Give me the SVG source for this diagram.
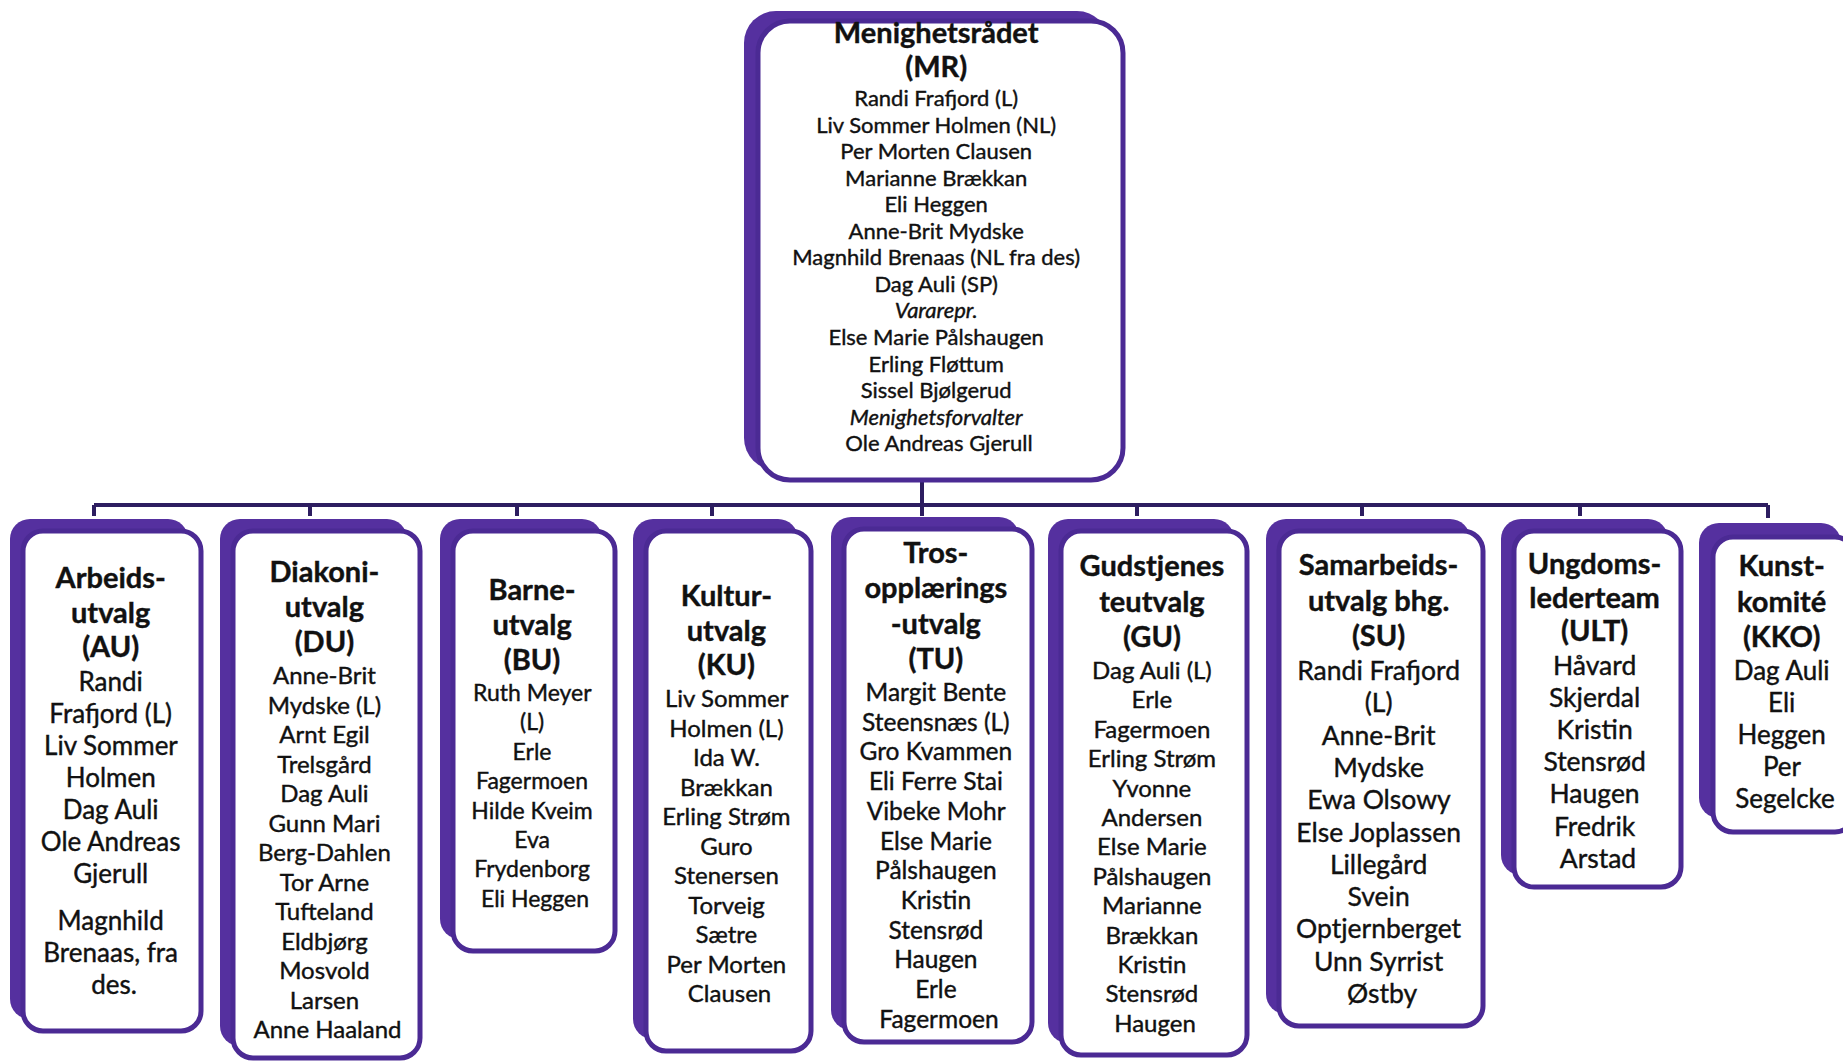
<svg xmlns="http://www.w3.org/2000/svg" width="1843" height="1062" viewBox="0 0 1843 1062">
<style>
.back{fill:#55309f}
.box{fill:#ffffff;stroke:#4b2a94;stroke-width:5}
.t{font-family:Lato,"Liberation Sans",sans-serif;text-anchor:middle;fill:#111111;stroke:#111111;stroke-width:0.4}
.h{font-weight:bold;font-size:29px}
.i{font-style:italic}
.conn{stroke:#2d1d60;stroke-width:4;fill:none}
</style>
<rect width="1843" height="1062" fill="#ffffff"/>
<g id="connectors">
<path class="conn" d="M922 482 V505 M94 505 H1768 M94 505 V516 M310 505 V516 M517 505 V516 M712 505 V516 M922 505 V516 M1137 505 V516 M1362 505 V516 M1580 505 V516 M1768 505 V518"/>
</g>
<g id="MR">
<rect class="back" x="744" y="11" width="365" height="459" rx="32"/>
<rect class="box" x="758" y="21" width="365" height="459" rx="32"/>
<text class="t" style="font-size:22px">
<tspan class="h" x="939" y="43">Menighetsrådet</tspan>
<tspan class="h" x="939" y="77">(MR)</tspan>
<tspan x="939" y="106">Randi Frafjord (L)</tspan>
<tspan x="939" dy="26.55">Liv Sommer Holmen (NL)</tspan>
<tspan x="939" dy="26.55">Per Morten Clausen</tspan>
<tspan x="939" dy="26.55">Marianne Brækkan</tspan>
<tspan x="939" dy="26.55">Eli Heggen</tspan>
<tspan x="939" dy="26.55">Anne-Brit Mydske</tspan>
<tspan x="939" dy="26.55">Magnhild Brenaas (NL fra des)</tspan>
<tspan x="939" dy="26.55">Dag Auli (SP)</tspan>
<tspan class="i" x="939" dy="26.55">Vararepr.</tspan>
<tspan x="939" dy="26.55">Else Marie Pålshaugen</tspan>
<tspan x="939" dy="26.55">Erling Fløttum</tspan>
<tspan x="939" dy="26.55">Sissel Bjølgerud</tspan>
<tspan class="i" x="939" dy="26.55">Menighetsforvalter</tspan>
<tspan x="939" dy="26.55">Ole Andreas Gjerull</tspan>
</text>
</g>
<g id="AU">
<rect class="back" x="10" y="519" width="178" height="500" rx="20"/>
<rect class="box" x="23" y="531" width="178" height="500" rx="20"/>
<text class="t" style="font-size:26px">
<tspan class="h" x="114" y="588">Arbeids-</tspan>
<tspan class="h" x="114" dy="34.5">utvalg</tspan>
<tspan class="h" x="114" dy="34.5">(AU)</tspan>
<tspan x="114" y="691">Randi</tspan>
<tspan x="114" dy="32">Frafjord (L)</tspan>
<tspan x="114" dy="32">Liv Sommer</tspan>
<tspan x="114" dy="32">Holmen</tspan>
<tspan x="114" dy="32">Dag Auli</tspan>
<tspan x="114" dy="32">Ole Andreas</tspan>
<tspan x="114" dy="32">Gjerull</tspan>
<tspan x="114" y="930">Magnhild</tspan>
<tspan x="114" dy="32">Brenaas, fra</tspan>
<tspan x="114" dy="32">des.</tspan>
</text>
</g>
<g id="DU">
<rect class="back" x="220" y="519" width="187" height="527" rx="20"/>
<rect class="box" x="233" y="531" width="187" height="527" rx="20"/>
<text class="t" style="font-size:24px">
<tspan class="h" x="327.5" y="582">Diakoni-</tspan>
<tspan class="h" x="327.5" dy="35">utvalg</tspan>
<tspan class="h" x="327.5" dy="35">(DU)</tspan>
<tspan x="327.5" y="684">Anne-Brit</tspan>
<tspan x="327.5" dy="29.5">Mydske (L)</tspan>
<tspan x="327.5" dy="29.5">Arnt Egil</tspan>
<tspan x="327.5" dy="29.5">Trelsgård</tspan>
<tspan x="327.5" dy="29.5">Dag Auli</tspan>
<tspan x="327.5" dy="29.5">Gunn Mari</tspan>
<tspan x="327.5" dy="29.5">Berg-Dahlen</tspan>
<tspan x="327.5" dy="29.5">Tor Arne</tspan>
<tspan x="327.5" dy="29.5">Tufteland</tspan>
<tspan x="327.5" dy="29.5">Eldbjørg</tspan>
<tspan x="327.5" dy="29.5">Mosvold</tspan>
<tspan x="327.5" dy="29.5">Larsen</tspan>
<tspan x="327.5" dy="29.5">Anne Haaland</tspan>
</text>
</g>
<g id="BU">
<rect class="back" x="440" y="519" width="162" height="420" rx="20"/>
<rect class="box" x="453" y="531" width="162" height="420" rx="20"/>
<text class="t" style="font-size:23px">
<tspan class="h" x="535" y="600">Barne-</tspan>
<tspan class="h" x="535" dy="35">utvalg</tspan>
<tspan class="h" x="535" dy="35">(BU)</tspan>
<tspan x="535" y="701">Ruth Meyer</tspan>
<tspan x="535" dy="29.4">(L)</tspan>
<tspan x="535" dy="29.4">Erle</tspan>
<tspan x="535" dy="29.4">Fagermoen</tspan>
<tspan x="535" dy="29.4">Hilde Kveim</tspan>
<tspan x="535" dy="29.4">Eva</tspan>
<tspan x="535" dy="29.4">Frydenborg</tspan>
<tspan x="535" dy="29.4">Eli Heggen</tspan>
</text>
</g>
<g id="KU">
<rect class="back" x="633" y="519" width="165" height="520" rx="20"/>
<rect class="box" x="646" y="531" width="165" height="520" rx="20"/>
<text class="t" style="font-size:24px">
<tspan class="h" x="729.5" y="606">Kultur-</tspan>
<tspan class="h" x="729.5" dy="34.5">utvalg</tspan>
<tspan class="h" x="729.5" dy="34.5">(KU)</tspan>
<tspan x="729.5" y="707">Liv Sommer</tspan>
<tspan x="729.5" dy="29.5">Holmen (L)</tspan>
<tspan x="729.5" dy="29.5">Ida W.</tspan>
<tspan x="729.5" dy="29.5">Brækkan</tspan>
<tspan x="729.5" dy="29.5">Erling Strøm</tspan>
<tspan x="729.5" dy="29.5">Guro</tspan>
<tspan x="729.5" dy="29.5">Stenersen</tspan>
<tspan x="729.5" dy="29.5">Torveig</tspan>
<tspan x="729.5" dy="29.5">Sætre</tspan>
<tspan x="729.5" dy="29.5">Per Morten</tspan>
<tspan x="729.5" dy="29.5">Clausen</tspan>
</text>
</g>
<g id="TU">
<rect class="back" x="831" y="517" width="188" height="513" rx="20"/>
<rect class="box" x="844" y="529" width="188" height="513" rx="20"/>
<text class="t" style="font-size:24.5px">
<tspan class="h" x="939" y="563">Tros-</tspan>
<tspan class="h" x="939" dy="35.3">opplærings</tspan>
<tspan class="h" x="939" dy="35.3">-utvalg</tspan>
<tspan class="h" x="939" dy="35.3">(TU)</tspan>
<tspan x="939" y="701">Margit Bente</tspan>
<tspan x="939" dy="29.7">Steensnæs (L)</tspan>
<tspan x="939" dy="29.7">Gro Kvammen</tspan>
<tspan x="939" dy="29.7">Eli Ferre Stai</tspan>
<tspan x="939" dy="29.7">Vibeke Mohr</tspan>
<tspan x="939" dy="29.7">Else Marie</tspan>
<tspan x="939" dy="29.7">Pålshaugen</tspan>
<tspan x="939" dy="29.7">Kristin</tspan>
<tspan x="939" dy="29.7">Stensrød</tspan>
<tspan x="939" dy="29.7">Haugen</tspan>
<tspan x="939" dy="29.7">Erle</tspan>
<tspan x="939" dy="29.7">Fagermoen</tspan>
</text>
</g>
<g id="GU">
<rect class="back" x="1048" y="519" width="186" height="524" rx="20"/>
<rect class="box" x="1061" y="531" width="186" height="524" rx="20"/>
<text class="t" style="font-size:24px">
<tspan class="h" x="1155" y="576">Gudstjenes</tspan>
<tspan class="h" x="1155" dy="35.5">teutvalg</tspan>
<tspan class="h" x="1155" dy="35.5">(GU)</tspan>
<tspan x="1155" y="679">Dag Auli (L)</tspan>
<tspan x="1155" dy="29.4">Erle</tspan>
<tspan x="1155" dy="29.4">Fagermoen</tspan>
<tspan x="1155" dy="29.4">Erling Strøm</tspan>
<tspan x="1155" dy="29.4">Yvonne</tspan>
<tspan x="1155" dy="29.4">Andersen</tspan>
<tspan x="1155" dy="29.4">Else Marie</tspan>
<tspan x="1155" dy="29.4">Pålshaugen</tspan>
<tspan x="1155" dy="29.4">Marianne</tspan>
<tspan x="1155" dy="29.4">Brækkan</tspan>
<tspan x="1155" dy="29.4">Kristin</tspan>
<tspan x="1155" dy="29.4">Stensrød</tspan>
<tspan x="1155" dy="29.4">Haugen</tspan>
</text>
</g>
<g id="SU">
<rect class="back" x="1266" y="519" width="204" height="495" rx="20"/>
<rect class="box" x="1279" y="531" width="204" height="495" rx="20"/>
<text class="t" style="font-size:26.5px">
<tspan class="h" x="1382" y="575">Samarbeids-</tspan>
<tspan class="h" x="1382" dy="35.5">utvalg bhg.</tspan>
<tspan class="h" x="1382" dy="35.5">(SU)</tspan>
<tspan x="1382" y="680">Randi Frafjord</tspan>
<tspan x="1382" dy="32.3">(L)</tspan>
<tspan x="1382" dy="32.3">Anne-Brit</tspan>
<tspan x="1382" dy="32.3">Mydske</tspan>
<tspan x="1382" dy="32.3">Ewa Olsowy</tspan>
<tspan x="1382" dy="32.3">Else Joplassen</tspan>
<tspan x="1382" dy="32.3">Lillegård</tspan>
<tspan x="1382" dy="32.3">Svein</tspan>
<tspan x="1382" dy="32.3">Optjernberget</tspan>
<tspan x="1382" dy="32.3">Unn Syrrist</tspan>
<tspan x="1382" dy="32.3">Østby</tspan>
</text>
</g>
<g id="ULT">
<rect class="back" x="1501" y="519" width="167" height="356" rx="20"/>
<rect class="box" x="1514" y="531" width="167" height="356" rx="20"/>
<text class="t" style="font-size:26.5px">
<tspan class="h" x="1598" y="574">Ungdoms-</tspan>
<tspan class="h" x="1598" dy="33.5">lederteam</tspan>
<tspan class="h" x="1598" dy="33.5">(ULT)</tspan>
<tspan x="1598" y="675">Håvard</tspan>
<tspan x="1598" dy="32.1">Skjerdal</tspan>
<tspan x="1598" dy="32.1">Kristin</tspan>
<tspan x="1598" dy="32.1">Stensrød</tspan>
<tspan x="1598" dy="32.1">Haugen</tspan>
<tspan x="1598" dy="32.1">Fredrik</tspan>
<tspan x="1598" dy="32.1">Arstad</tspan>
</text>
</g>
<g id="KKO">
<rect class="back" x="1699" y="523" width="142" height="295" rx="20"/>
<rect class="box" x="1713" y="537" width="142" height="295" rx="20"/>
<text class="t" style="font-size:26px">
<tspan class="h" x="1785" y="576">Kunst-</tspan>
<tspan class="h" x="1785" dy="35.5">komité</tspan>
<tspan class="h" x="1785" dy="35.5">(KKO)</tspan>
<tspan x="1785" y="680">Dag Auli</tspan>
<tspan x="1785" dy="32">Eli</tspan>
<tspan x="1785" dy="32">Heggen</tspan>
<tspan x="1785" dy="32">Per</tspan>
<tspan x="1785" dy="32">Segelcke</tspan>
</text>
</g>
</svg>
